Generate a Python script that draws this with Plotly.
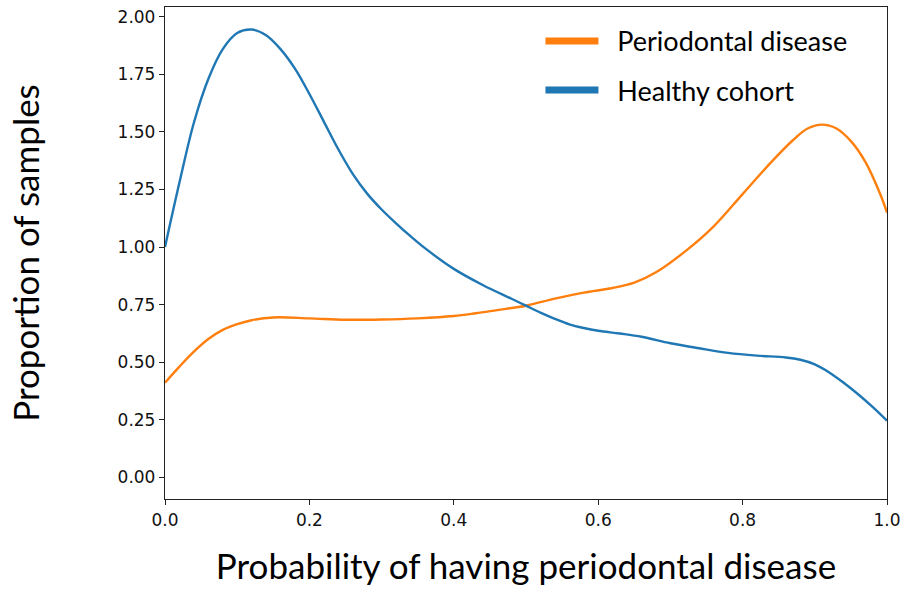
import plotly.graph_objects as go

x_healthy = [0.00, 0.02, 0.04, 0.06, 0.08, 0.10, 0.12, 0.14, 0.16, 0.18, 0.20, 0.22, 0.24, 0.26, 0.28, 0.30,
             0.32, 0.34, 0.36, 0.40, 0.44, 0.48, 0.50, 0.52, 0.54, 0.56, 0.58, 0.60, 0.63, 0.66, 0.70, 0.74, 0.78,
             0.82, 0.86, 0.88, 0.90, 0.92, 0.94, 0.96, 0.98, 1.00]
y_healthy = [1.00, 1.28, 1.54, 1.73, 1.86, 1.93, 1.945, 1.92, 1.86, 1.775, 1.665, 1.545, 1.425, 1.318, 1.232, 1.163,
             1.103, 1.047, 0.995, 0.905, 0.835, 0.775, 0.745, 0.715, 0.688, 0.664, 0.648, 0.636, 0.624, 0.61, 0.582, 0.56, 0.54,
             0.528, 0.52, 0.51, 0.49, 0.455, 0.41, 0.36, 0.305, 0.245]

x_disease = [0.00, 0.02, 0.04, 0.06, 0.08, 0.10, 0.12, 0.15, 0.20, 0.25, 0.30, 0.35, 0.40, 0.43, 0.46, 0.50,
             0.54, 0.58, 0.62, 0.65, 0.68, 0.72, 0.76, 0.80, 0.84, 0.87, 0.89, 0.91, 0.93, 0.95, 0.97, 0.99, 1.00]
y_disease = [0.41, 0.48, 0.545, 0.60, 0.64, 0.665, 0.682, 0.694, 0.69, 0.684, 0.685, 0.69, 0.70, 0.712, 0.726, 0.745,
             0.776, 0.802, 0.822, 0.845, 0.89, 0.98, 1.09, 1.23, 1.37, 1.465, 1.515, 1.532, 1.515, 1.46, 1.37, 1.235, 1.15]

series_names = ["Periodontal disease", "Healthy cohort"]
series_colors = ["#ff7f0e", "#1f77b4"]

x_ticks = [0.0, 0.2, 0.4, 0.6, 0.8, 1.0]
x_ticklabels = ["0.0", "0.2", "0.4", "0.6", "0.8", "1.0"]
y_ticks = [0.0, 0.25, 0.5, 0.75, 1.0, 1.25, 1.5, 1.75, 2.0]
y_ticklabels = ["0.00", "0.25", "0.50", "0.75", "1.00", "1.25", "1.50", "1.75", "2.00"]

fig = go.Figure()
fig.add_trace(go.Scatter(x=x_disease, y=y_disease, mode="lines",
                         line=dict(color=series_colors[0], width=2.4, shape="spline", smoothing=1.0),
                         showlegend=False))
fig.add_trace(go.Scatter(x=x_healthy, y=y_healthy, mode="lines",
                         line=dict(color=series_colors[1], width=2.4, shape="spline", smoothing=1.0),
                         showlegend=False))
# legend entries (thick swatches)
for nm, c in zip(series_names, series_colors):
    fig.add_trace(go.Scatter(x=[None], y=[None], mode="lines", name="\u00a0\u00a0" + nm,
                             line=dict(color=c, width=7), legendgroup=nm, showlegend=True))

axis_common = dict(showline=True, linecolor="#222", linewidth=1.3, mirror=True, ticks="outside",
                   ticklen=5, tickcolor="#222", tickwidth=1.2, showgrid=False, zeroline=False,
                   tickfont=dict(family="DejaVu Sans", size=17, color="#111"))

fig.update_layout(
    width=907, height=593,
    margin=dict(l=165, r=18, t=6, b=94),
    plot_bgcolor="white", paper_bgcolor="white",
    xaxis=dict(range=[0, 1], tickvals=x_ticks, ticktext=x_ticklabels,
               title=dict(text="Probability of having periodontal disease\u00a0\u00a0", standoff=25,
                          font=dict(family="Lato", size=35, color="#000")), **axis_common),
    yaxis=dict(range=[-0.095, 2.043], tickvals=y_ticks, ticktext=y_ticklabels,
               title=dict(text="Proportion of samples", standoff=67,
                          font=dict(family="Lato", size=35, color="#000")), **axis_common),
    legend=dict(x=0.52, y=0.98, xanchor="left", yanchor="top", bgcolor="rgba(0,0,0,0)",
                font=dict(family="Lato", size=27, color="#000"), itemwidth=53, tracegroupgap=11),
)

fig.write_html("out.html")
